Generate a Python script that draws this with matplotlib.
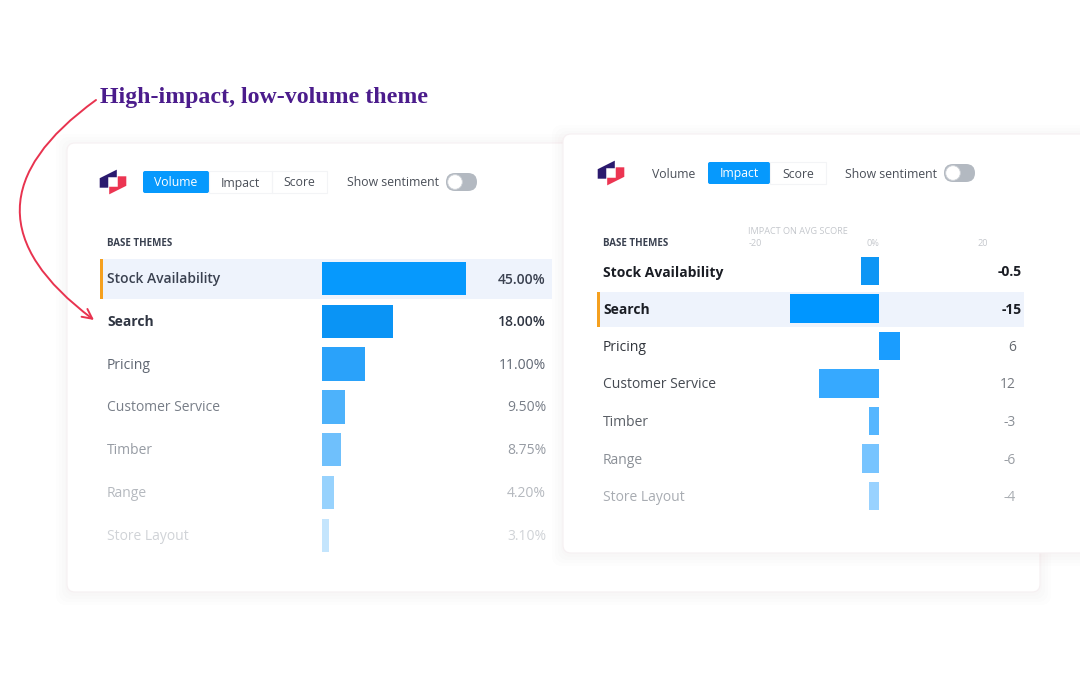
import numpy as np
import matplotlib
matplotlib.use("Agg")
import matplotlib.pyplot as plt
from matplotlib.patches import FancyBboxPatch, Polygon, FancyArrowPatch, Circle, Rectangle

# ---- data ----
themes = ["Stock Availability", "Search", "Pricing", "Customer Service",
          "Timber", "Range", "Store Layout"]
volume_labels = ["45.00%", "18.00%", "11.00%", "9.50%", "8.75%", "4.20%", "3.10%"]
volume_bars = [45.0, 22.3, 13.6, 7.2, 6.05, 3.75, 2.2]      # bar lengths as drawn
impact_labels = ["-0.5", "-15", "6", "12", "-3", "-6", "-4"]
impact_bars = [-3.4, -16.8, 4.0, -11.3, -1.9, -3.2, -1.9]   # bar lengths as drawn
impact_ticks = ["-20", "0%", "20"]
impact_tick_x = [755, 873, 983]

vol_text_colors = ["#3a4150", "#2f3542", "#5f6672", "#787e88", "#979ca4", "#b5b9bf", "#d0d3d7"]
vol_bar_colors = ["#0699fd", "#0a94f5", "#2aa2fa", "#4db2fb", "#6fc0fc", "#97d2fd", "#c4e5fd"]
imp_text_colors = ["#1a1d24", "#1a1d24", "#30343b", "#454a52", "#5a5f66", "#8a8f96", "#a8acb2"]
imp_val_colors = ["#1a1d24", "#1a1d24", "#666a70", "#777b82", "#8a8f96", "#9a9ea4", "#aaaeb3"]
imp_bar_colors = ["#0d96f5", "#0096ff", "#1a9dff", "#36a9ff", "#55b6ff", "#77c4ff", "#99d2ff"]

FONT = "Open Sans"
W, H = 1080, 682
fig = plt.figure(figsize=(W / 100, H / 100), dpi=100)
fig.patch.set_facecolor("white")
ax0 = fig.add_axes([0, 0, 1, 1])
ax0.set_xlim(0, W)
ax0.set_ylim(H, 0)
ax0.axis("off")


def card(x0, y0, x1, y1):
    for i in range(4):
        p = 2 + i * 3
        ax0.add_patch(FancyBboxPatch((x0 - p, y0 - p + 2), x1 - x0 + 2 * p, y1 - y0 + 2 * p,
                                     boxstyle="round,pad=0,rounding_size=10",
                                     fc="#7a5060", ec="none", alpha=0.006))
    ax0.add_patch(FancyBboxPatch((x0, y0), x1 - x0, y1 - y0,
                                 boxstyle="round,pad=0,rounding_size=8",
                                 fc="white", ec="#f6f0f2", lw=0.8))


def logo(cx, cy, s=1.0):
    navy = [(-14, -4), (4, -13), (4, -5), (-5, -5), (-5, 6), (-14, 6)]
    red = [(14, 4), (-4, 13), (-4, 5), (5, 5), (5, -6), (14, -6)]
    ax0.add_patch(Polygon([(cx + x * s, cy + y * s) for x, y in navy], closed=True,
                          fc="#2b1a6e", ec="none"))
    ax0.add_patch(Polygon([(cx + x * s, cy + y * s) for x, y in red], closed=True,
                          fc="#ec3552", ec="none"))


def buttons(x0, yc, names, widths, active):
    x = x0
    for n, w in zip(names, widths):
        if n == active:
            ax0.add_patch(FancyBboxPatch((x, yc - 11), w, 22,
                                         boxstyle="round,pad=0,rounding_size=2",
                                         fc="#0699fd", ec="none"))
            c = "white"
        else:
            ax0.add_patch(Rectangle((x, yc - 11), w, 22, fc="none", ec="#f3f4f6", lw=0.8))
            c = "#4a4f58"
        ax0.text(x + w / 2, yc + 1, n, ha="center", va="center", fontsize=8.8,
                 family=FONT, color=c)
        x += w


def toggle(x0, yc, label_x):
    ax0.text(label_x, yc + 1, "Show sentiment", ha="left", va="center", fontsize=8.8,
             family=FONT, color="#4a4f58")
    ax0.add_patch(FancyBboxPatch((x0, yc - 9), 31, 18, boxstyle="round,pad=0,rounding_size=9",
                                 fc="#b3b9c1", ec="none"))
    ax0.add_patch(Circle((x0 + 9, yc), 7.3, fc="white", ec="#d0d4d9", lw=0.6))


# ---- left card (volume) ----
card(67, 143, 1040, 592)
logo(113, 182, 0.95)
buttons(143, 182, ["Volume", "Impact", "Score"], [66, 63, 55], "Volume")
toggle(446, 182, 347)
ax0.text(107, 244, "BASE THEMES", fontsize=7, fontweight="bold", family=FONT,
         color="#3a4150", va="center")

row_y_left = 278.5 + 42.8 * np.arange(len(themes))
ax0.add_patch(Rectangle((101, 258.5), 451, 40, fc="#eef3fc", ec="none"))
ax0.add_patch(Rectangle((100, 258.5), 3, 40, fc="#f5a01f", ec="none"))
for i, t in enumerate(themes):
    wt = "semibold" if i == 0 else ("bold" if i == 1 else "normal")
    ax0.text(107, row_y_left[i] + 1, t, fontsize=10, family=FONT, fontweight=wt,
             color=vol_text_colors[i], va="center", ha="left")
    ax0.text(546, row_y_left[i] + 1, volume_labels[i], fontsize=10, family=FONT,
             fontweight="semibold" if i < 2 else "normal",
             color=vol_text_colors[i], va="center", ha="right")

# ---- right card (impact) ----
card(563, 134, 1100, 553)
logo(611, 173, 0.95)
ax0.text(674, 174, "Volume", ha="center", va="center", fontsize=8.8, family=FONT, color="#4a4f58")
buttons(708, 173, ["Impact", "Score"], [62, 56], "Impact")
toggle(944, 173, 845)
ax0.text(603, 243, "BASE THEMES", fontsize=7, fontweight="bold", family=FONT,
         color="#3a4150", va="center")
ax0.text(748, 231, "IMPACT ON AVG SCORE", fontsize=6.6, family=FONT, color="#c4c7cc", va="center")
for tx, lab in zip(impact_tick_x, impact_ticks):
    ax0.text(tx, 243, lab, ha="center", va="center", fontsize=6.6, family=FONT, color="#c4c7cc")

row_y_right = 271 + 37.5 * np.arange(len(themes))
ax0.add_patch(Rectangle((597, 291.5), 427, 35, fc="#eef3fc", ec="none"))
ax0.add_patch(Rectangle((596.5, 291.5), 3, 35, fc="#f5a01f", ec="none"))
for i, t in enumerate(themes):
    wt = "bold" if i < 2 else "normal"
    ax0.text(603, row_y_right[i] + 1.5, t, fontsize=10, family=FONT, fontweight=wt,
             color=imp_text_colors[i], va="center", ha="left")
    ax0.text(1022 if i < 2 else 1016, row_y_right[i] + 1.5, impact_labels[i], fontsize=10,
             family=FONT, fontweight=wt, color=imp_val_colors[i], va="center", ha="right")

# ---- annotation ----
ax0.text(100, 97, "High-impact, low-volume theme", fontsize=17.2, fontweight="bold",
         family="Liberation Serif", color="#4b1c8c", va="center", ha="left")
ax0.add_patch(FancyArrowPatch((96, 100), (94, 320), connectionstyle="arc3,rad=0.68",
                              arrowstyle="->,head_length=7,head_width=3.5",
                              color="#e8334f", lw=1.4, shrinkA=0, shrinkB=0))


# ---- bar axes ----
def px_axes(x0, y0, x1, y1):
    a = fig.add_axes([x0 / W, 1 - y1 / H, (x1 - x0) / W, (y1 - y0) / H])
    a.patch.set_alpha(0)
    a.axis("off")
    return a


n = len(themes)
axl = px_axes(322, row_y_left[0] - 21.4, 552, row_y_left[-1] + 21.4)
axl.barh(np.arange(n), volume_bars, height=0.78, color=vol_bar_colors, left=0)
axl.set_xlim(0, 230 / 3.19)
axl.set_ylim(n - 0.5, -0.5)

axr = px_axes(773, row_y_right[0] - 18.75, 985, row_y_right[-1] + 18.75)
axr.barh(np.arange(n), impact_bars, height=0.77, color=imp_bar_colors)
axr.set_xlim(-20, 20)
axr.set_ylim(n - 0.5, -0.5)

fig.savefig("out.png", dpi=100, facecolor="white")
